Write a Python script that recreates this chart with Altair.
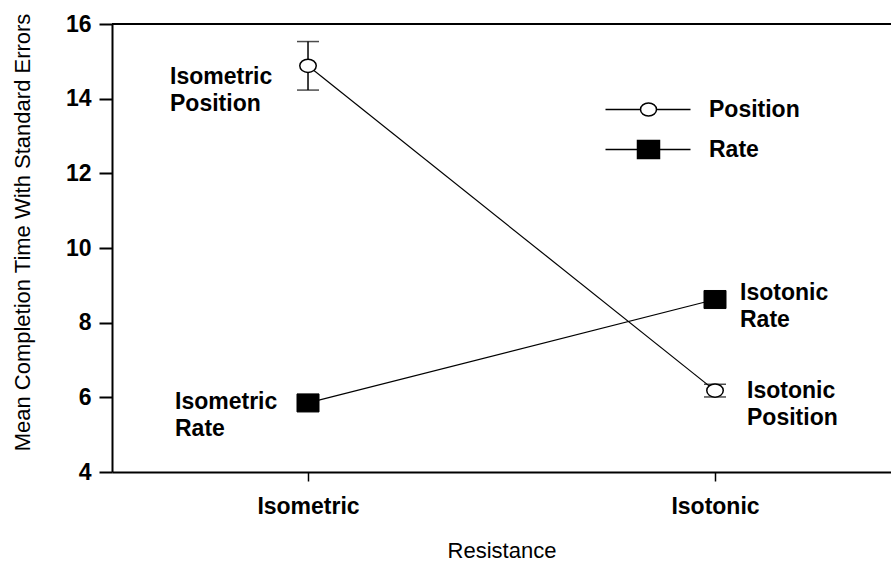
import json

import altair as alt
import pandas as pd

# Mean completion time (with standard errors) by resistance type and task
resistance = ["Isometric", "Isotonic"]
series = ["Position", "Rate"]
position_mean = [14.88, 6.18]
position_se = [0.65, 0.17]
rate_mean = [5.85, 8.62]
rate_se = [0.15, 0.15]

rows = []
for name, means, ses in [("Position", position_mean, position_se), ("Rate", rate_mean, rate_se)]:
    for i, r in enumerate(resistance):
        rows.append({
            "resistance": r,
            "pos": i,
            "series": name,
            "mean": means[i],
            "lo": means[i] - ses[i],
            "hi": means[i] + ses[i],
            "label": f"{r}\n{name}",
        })
df = pd.DataFrame(rows)

FONT = "Liberation Sans"
BOLD_SIZE = 23

x_scale = alt.Scale(domain=[-0.4816, 1.4324], nice=False, zero=False)
y_scale = alt.Scale(domain=[4, 16], nice=False, zero=False)

x_axis = alt.Axis(
    values=[0, 1],
    labelExpr=f"{json.dumps(resistance)}[datum.value]",
    title="Resistance",
    titleFont=FONT, titleFontSize=22, titleFontWeight="normal", titleColor="black",
    titlePadding=22,
    labelFont=FONT, labelFontSize=BOLD_SIZE, labelFontWeight="bold", labelColor="black",
    labelPadding=14,
    tickSize=9, tickWidth=1.5, tickColor="black",
    domainColor="black", domainWidth=2,
    grid=False,
)

y_axis = alt.Axis(
    values=list(range(4, 17)),
    labelExpr="datum.value % 2 == 0 ? datum.label : ''",
    title="Mean Completion Time With Standard Errors",
    titleFont=FONT, titleFontSize=22, titleFontWeight="normal", titleColor="black",
    titlePadding=31, titleY=208,
    labelFont=FONT, labelFontSize=BOLD_SIZE, labelFontWeight="bold", labelColor="black",
    labelPadding=8,
    tickSize={"condition": {"test": "datum.value % 2 == 0", "value": 13}, "value": 6},
    tickWidth=2, tickColor="black",
    domainColor="black", domainWidth=2,
    grid=False,
)

base = alt.Chart(df)
X = alt.X("pos:Q", scale=x_scale, axis=x_axis)
Y = alt.Y("mean:Q", scale=y_scale, axis=y_axis)

# thin connecting lines for each task
lines = base.mark_line(color="black", strokeWidth=1.2).encode(x=X, y=Y, detail="series:N")

# error bars: vertical stem plus caps
stems = base.mark_rule(color="black", strokeWidth=1.5).encode(
    x=alt.X("pos:Q", scale=x_scale), y=alt.Y("lo:Q", scale=y_scale), y2="hi:Q"
)
caps_lo = base.mark_tick(orient="horizontal", size=22, thickness=1.5, color="black").encode(
    x=alt.X("pos:Q", scale=x_scale), y=alt.Y("lo:Q", scale=y_scale)
)
caps_hi = base.mark_tick(orient="horizontal", size=22, thickness=1.5, color="black").encode(
    x=alt.X("pos:Q", scale=x_scale), y=alt.Y("hi:Q", scale=y_scale)
)

ellipse = "M1,0A1,0.8,0,1,1,-1,0A1,0.8,0,1,1,1,0Z"
box = "M-1,-0.82H1V0.82H-1Z"

pos_points = base.transform_filter(alt.datum.series == series[0]).mark_point(
    shape=ellipse, size=272, filled=True, fill="white", stroke="black", strokeWidth=1.5, opacity=1
).encode(x=alt.X("pos:Q", scale=x_scale), y=alt.Y("mean:Q", scale=y_scale))

rate_points = base.transform_filter(alt.datum.series == series[1]).mark_point(
    shape=box, size=484, filled=True, fill="black", stroke="black", strokeWidth=1, opacity=1
).encode(x=alt.X("pos:Q", scale=x_scale), y=alt.Y("mean:Q", scale=y_scale))

# legend: line with marker, built from shape/fill/stroke scales keyed on the series
legend_paths = [
    "M-4.3,0H-0.8M0.8,0H4.2M0.8,0A0.8,0.65,0,1,1,-0.8,0A0.8,0.65,0,1,1,0.8,0Z",
    "M-4.3,0H4.2M-1.1,-0.9H1.1V0.9H-1.1Z",
]
legend_def = alt.Legend(
    orient="none", legendX=525, legendY=74, title=None,
    symbolSize=400, symbolStrokeWidth=1.5, symbolOpacity=1,
    labelFont=FONT, labelFontSize=BOLD_SIZE, labelFontWeight="bold", labelColor="black",
    labelOffset=49, rowPadding=15, labelLimit=300,
)
legend_layer = base.transform_filter("false").mark_point(filled=True, opacity=1).encode(
    x=alt.X("pos:Q", scale=x_scale),
    y=alt.Y("mean:Q", scale=y_scale),
    shape=alt.Shape("series:N", scale=alt.Scale(domain=series, range=legend_paths), legend=legend_def),
    fill=alt.Fill("series:N", scale=alt.Scale(domain=series, range=["white", "black"]), legend=legend_def),
    stroke=alt.Stroke("series:N", scale=alt.Scale(domain=series, range=["black", "black"]), legend=legend_def),
)


def point_label(res, name, dx, dy):
    return base.transform_filter(
        (alt.datum.resistance == res) & (alt.datum.series == name)
    ).mark_text(
        align="left", baseline="middle", dx=dx, dy=dy, lineBreak="\n", lineHeight=27,
        font=FONT, fontSize=BOLD_SIZE, fontWeight="bold", color="black",
    ).encode(x=alt.X("pos:Q", scale=x_scale), y=alt.Y("mean:Q", scale=y_scale), text="label:N")


labels = [
    point_label(resistance[0], series[0], -138, 11),
    point_label(resistance[0], series[1], -133, -1),
    point_label(resistance[1], series[1], 25, -7),
    point_label(resistance[1], series[0], 32, 0),
]

# top frame line at the upper end of the y domain
top_line = alt.Chart(df).mark_rule(color="black", strokeWidth=2).encode(
    y=alt.Y(datum=16, scale=y_scale)
)

chart = alt.layer(
    lines, stems, caps_lo, caps_hi, pos_points, rate_points, legend_layer, top_line, *labels
).properties(
    width=779, height=448,
    autosize=alt.AutoSizeParams(type="none"),
    padding={"left": 112, "top": 24, "right": 0, "bottom": 90},
).configure_view(stroke=None)

chart.save("out.html", embed_options={"renderer": "svg", "actions": False})
